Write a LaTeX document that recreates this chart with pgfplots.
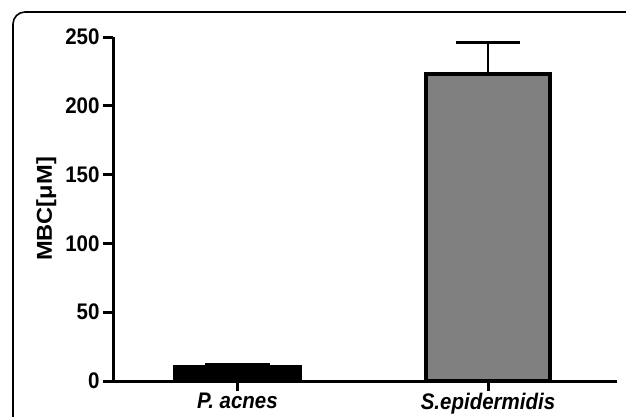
\documentclass[border=0pt]{standalone}
\usepackage{fontspec}
\setmainfont{Liberation Sans}
\usepackage{pgfplots}
\pgfplotsset{compat=1.18}
\definecolor{bargray}{HTML}{808080}
\begin{document}
\begin{tikzpicture}[x=1pt,y=1pt]
\useasboundingbox (0,0) rectangle (626,416);
\begin{scope}
\clip (0,0) rectangle (626,416);
\draw[line width=1.6pt, rounded corners=12pt] (13,-20) -- (13,404) -- (660,404);
\end{scope}
\begin{axis}[
    at={(113pt,35pt)}, anchor=south west,
    scale only axis,
    width=504pt, height=344pt,
    xmin=-0.497, xmax=1.515,
    ymin=0, ymax=250,
    axis lines=left,
    axis line style={line width=3pt, -},
    every tick/.style={line width=3pt, black},
    tick align=outside,
    major tick length=10pt,
    xtick={0,1},
    xticklabels={\textit{P. acnes},\textit{S.epidermidis}},
    ytick={0,50,100,150,200,250},
    /pgf/number format/assume math mode=true,
    ticklabel style={font=\bfseries\fontsize{20.5}{21}\selectfont, yscale=1.1},
    xticklabel style={yshift=2pt},
    ylabel={MBC[μM]},
    ylabel style={font=\bfseries\fontsize{21.5}{22}\selectfont, xscale=1.1, yshift=2pt},
    ybar, bar shift=0pt, bar width=124pt,
    clip=false,
]
\addplot[draw=black, fill=black, line width=4pt,
    error bars/.cd, y dir=plus, y explicit,
    error bar style={line width=2.5pt},
    error mark options={rotate=90, mark size=32pt, line width=2.5pt}]
    coordinates {(0,10) +- (0,2.2)};
\addplot[draw=black, fill=bargray, line width=4pt,
    error bars/.cd, y dir=plus, y explicit,
    error bar style={line width=2.5pt},
    error mark options={rotate=90, mark size=32pt, line width=2.5pt}]
    coordinates {(1,223) +- (0,23)};
\end{axis}
\end{tikzpicture}
\end{document}
